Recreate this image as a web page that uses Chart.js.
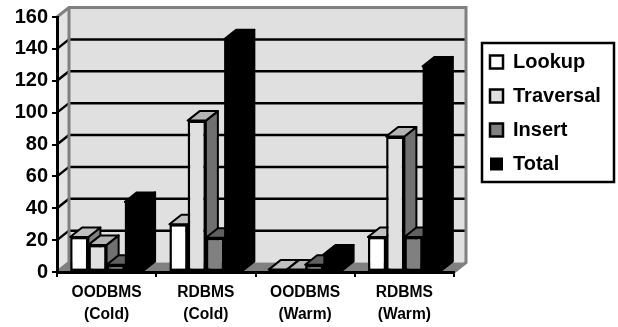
<!DOCTYPE html>
<html>
<head>
<meta charset="utf-8">
<title>Chart</title>
<script src="https://cdn.jsdelivr.net/npm/chart.js@4"></script>
<style>
    html, body { margin: 0; padding: 0; background: #fff; }
    canvas { display: block; }
</style>
</head>
<body>
<canvas id="chart" width="618" height="327"></canvas>
<script>
const categories = [["OODBMS", "(Cold)"], ["RDBMS", "(Cold)"], ["OODBMS", "(Warm)"], ["RDBMS", "(Warm)"]];
const lookup = [22, 30, 1.5, 22];
const traversal = [17, 95, 1.5, 85];
const insert = [4.5, 21.5, 4.5, 22];
const total = [44, 146, 11, 129];

const frontColors = ["#ffffff", "#e0e0e0", "#808080", "#000000"];
const topColors = ["#c0c0c0", "#b4b4b4", "#606060", "#000000"];
const sideColors = ["#808080", "#707070", "#404040", "#000000"];
// the black bars get no border, a border leaves a seam on them
const borderWidths = [2.5, 2.5, 2.5, 0];

// depth of the fake 3D box
const depthX = 12;
const depthY = 9.5;

function poly(ctx, pts, fill, stroke, width) {
    ctx.beginPath();
    pts.forEach((p, i) => i ? ctx.lineTo(p[0], p[1]) : ctx.moveTo(p[0], p[1]));
    ctx.closePath();
    if (fill) {
        ctx.fillStyle = fill;
        ctx.fill();
    }
    if (stroke) {
        ctx.strokeStyle = stroke;
        ctx.lineWidth = width;
        ctx.lineJoin = "round";
        ctx.stroke();
    }
}

const box3d = {
    id: "box3d",
    afterLayout(chart) {
        // move the legend to the right of the plot
        const legend = chart.legend;
        legend.left = 476;
        legend.right = 618;
        legend.top = 38;
        legend.bottom = 194;
        legend.width = 142;
        legend.height = 156;
    },
    beforeDraw(chart) {
        const ctx = chart.ctx;
        const a = chart.chartArea;
        const y = chart.scales.y;
        ctx.save();
        // side wall and back wall
        poly(ctx, [[a.left, a.top], [a.left + depthX, a.top - depthY], [a.left + depthX, a.bottom - depthY], [a.left, a.bottom]], "#e4e4e4");
        poly(ctx, [[a.left + depthX, a.top - depthY], [a.right + depthX, a.top - depthY], [a.right + depthX, a.bottom - depthY], [a.left + depthX, a.bottom - depthY]], "#e0e0e0");
        // floor
        poly(ctx, [[a.left, a.bottom], [a.left + depthX, a.bottom - depthY], [a.right + depthX, a.bottom - depthY], [a.right, a.bottom]], "#808080");
        // gridlines
        y.ticks.forEach(t => {
            if (t.value === 0 || t.value === y.max) return;
            const py = y.getPixelForValue(t.value);
            ctx.beginPath();
            ctx.moveTo(a.left, py);
            ctx.lineTo(a.left + depthX, py - depthY);
            ctx.lineTo(a.right + depthX, py - depthY);
            ctx.strokeStyle = "#000000";
            ctx.lineWidth = 2.5;
            ctx.stroke();
        });
        // grey edges of the walls
        ctx.beginPath();
        ctx.moveTo(a.left, a.top);
        ctx.lineTo(a.left + depthX, a.top - depthY);
        ctx.lineTo(a.right + depthX, a.top - depthY);
        ctx.lineTo(a.right + depthX, a.bottom - depthY);
        ctx.lineTo(a.right, a.bottom);
        ctx.moveTo(a.left + depthX, a.top - depthY);
        ctx.lineTo(a.left + depthX, a.bottom - depthY);
        ctx.lineTo(a.left, a.bottom);
        ctx.strokeStyle = "#808080";
        ctx.lineWidth = 3;
        ctx.stroke();
        ctx.restore();
    },
    beforeDatasetsDraw(chart) {
        // left to right, so each bar covers the side of the one before it
        const ctx = chart.ctx;
        chart.data.datasets.forEach((ds, i) => {
            chart.getDatasetMeta(i).data.forEach(bar => {
                const p = bar.getProps(["x", "y", "base", "width"], true);
                const l = p.x - p.width / 2;
                const r = p.x + p.width / 2;
                ctx.save();
                poly(ctx, [[r, p.y], [r + depthX, p.y - depthY], [r + depthX, p.base - depthY], [r, p.base]], sideColors[i], "#000000", 2);
                poly(ctx, [[l, p.y], [l + depthX, p.y - depthY], [r + depthX, p.y - depthY], [r, p.y]], topColors[i], "#000000", 2);
                ctx.restore();
                bar.draw(ctx);
            });
        });
        return false;
    },
    afterDraw(chart) {
        // legend frame
        const ctx = chart.ctx;
        ctx.save();
        ctx.strokeStyle = "#000000";
        ctx.lineWidth = 2.5;
        ctx.strokeRect(482, 43, 132, 139);
        ctx.restore();
    }
};

function makeDataset(label, values, i) {
    return {
        label: label,
        data: values,
        backgroundColor: frontColors[i],
        borderColor: "#000000",
        borderWidth: borderWidths[i],
        borderSkipped: false,
        categoryPercentage: 0.735,
        barPercentage: 1
    };
}

new Chart(document.getElementById("chart"), {
    type: "bar",
    data: {
        labels: categories,
        datasets: [
            makeDataset("Lookup", lookup, 0),
            makeDataset("Traversal", traversal, 1),
            makeDataset("Insert", insert, 2),
            makeDataset("Total", total, 3)
        ]
    },
    options: {
        responsive: false,
        animation: false,
        layout: { padding: { top: 17, right: 164, bottom: 0, left: 0 } },
        plugins: {
            tooltip: { enabled: false },
            title: { display: false },
            legend: {
                position: "chartArea",
                align: "start",
                labels: {
                    boxWidth: 13,
                    boxHeight: 13,
                    padding: 14,
                    color: "#000000",
                    font: { family: "'Liberation Sans'", size: 20, weight: "bold" }
                }
            }
        },
        scales: {
            x: {
                afterFit: s => { s.height = 55; },
                border: { color: "#000000", width: 3, z: 1 },
                grid: { drawOnChartArea: false, drawTicks: true, tickLength: 5, color: "#000000", lineWidth: 2 },
                ticks: {
                    color: "#000000",
                    padding: 5,
                    maxRotation: 0,
                    font: { family: "'Liberation Sans'", size: 15.6, weight: "bold", lineHeight: 1.4 }
                }
            },
            y: {
                min: 0,
                max: 160,
                afterFit: s => { s.width = 57; },
                border: { color: "#000000", width: 3, z: 1 },
                grid: { drawOnChartArea: false, drawTicks: true, tickLength: 5, color: "#000000", lineWidth: 2 },
                ticks: {
                    stepSize: 20,
                    color: "#000000",
                    padding: 4,
                    font: { family: "'Liberation Sans'", size: 20, weight: "bold" }
                }
            }
        }
    },
    plugins: [box3d]
});
</script>
</body>
</html>
